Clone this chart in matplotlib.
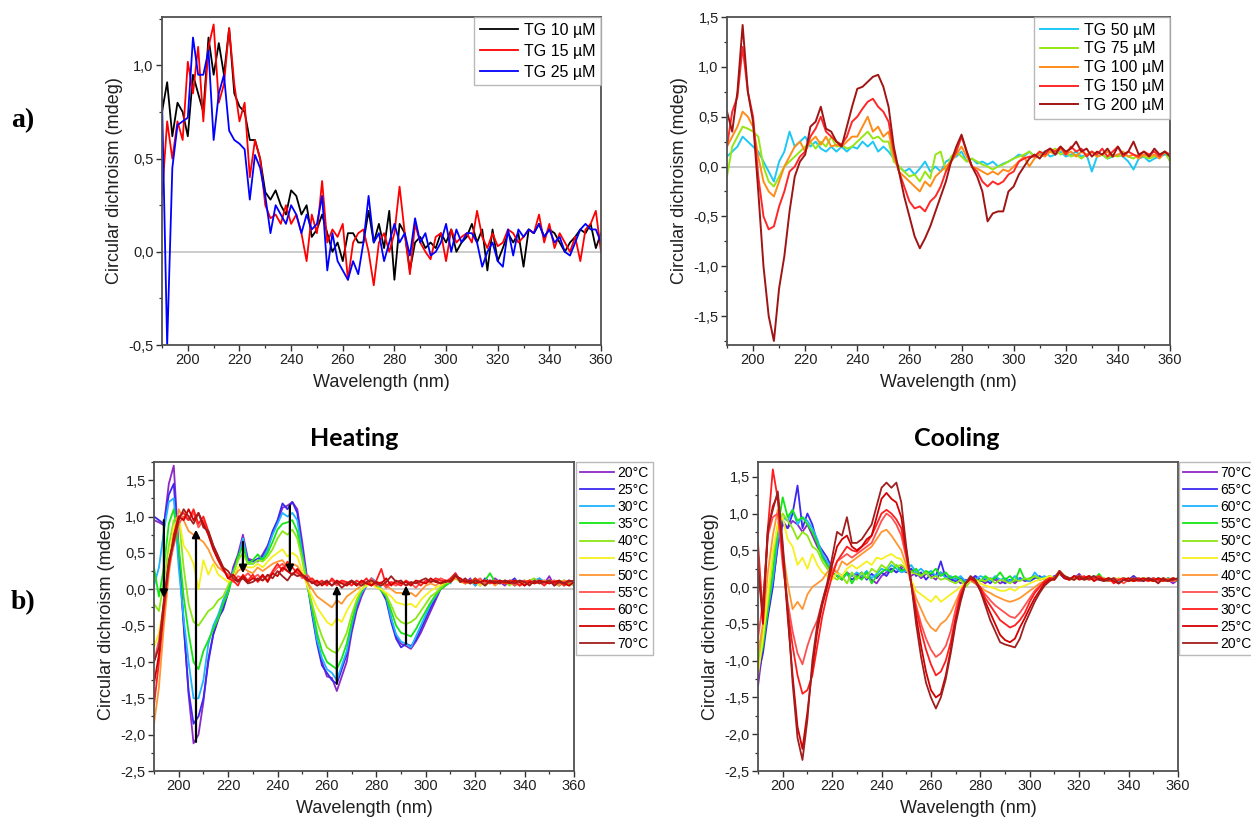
import matplotlib
matplotlib.use("Agg")
import matplotlib.pyplot as plt
from matplotlib.ticker import MultipleLocator, FuncFormatter

# ---------------- data ----------------
wavelength = list(range(190, 361, 2))  # nm

# panel a) left
tg_10 = [0.75, 0.91, 0.62, 0.80, 0.75, 0.62, 0.95, 0.85, 0.75, 1.15,
         0.95, 1.12, 0.95, 1.20, 0.85, 0.78, 0.75, 0.60, 0.60, 0.50,
         0.32, 0.28, 0.33, 0.25, 0.20, 0.33, 0.30, 0.20, 0.25, 0.08,
         0.12, 0.20, 0.10, 0.00, 0.05, -0.05, 0.10, 0.10, 0.05, 0.05,
         0.22, 0.05, 0.15, 0.02, 0.22, -0.15, 0.15, 0.10, -0.10, 0.05,
         0.08, 0.02, 0.05, 0.02, 0.10, 0.05, 0.12, 0.00, 0.05, 0.08,
         0.15, 0.05, 0.12, -0.10, 0.12, -0.05, 0.02, 0.10, 0.05, 0.10,
         -0.08, 0.12, 0.10, 0.15, 0.08, 0.12, 0.10, 0.05, 0.00, 0.05,
         0.08, 0.12, 0.10, 0.15, 0.02, 0.10]
tg_15 = [0.30, 0.70, 0.50, 0.70, 0.60, 1.02, 0.85, 1.10, 0.70, 1.10,
         1.22, 0.80, 0.90, 1.20, 0.90, 0.70, 0.80, 0.40, 0.60, 0.50,
         0.25, 0.18, 0.20, 0.15, 0.25, 0.15, 0.20, 0.10, -0.05, 0.20,
         0.10, 0.38, 0.05, 0.12, 0.08, 0.15, -0.15, 0.05, 0.10, 0.12,
         0.00, -0.18, 0.05, 0.10, 0.00, 0.10, 0.35, 0.10, -0.12, 0.15,
         0.05, 0.00, -0.04, 0.08, 0.10, -0.05, 0.12, 0.05, 0.08, 0.10,
         0.05, 0.22, 0.08, 0.02, 0.10, 0.03, 0.05, 0.12, 0.10, 0.05,
         0.08, 0.12, 0.10, 0.20, 0.05, 0.15, 0.02, 0.10, 0.05, 0.00,
         0.08, -0.05, 0.12, 0.15, 0.22, 0.00]
tg_25 = [0.82, -0.50, 0.45, 0.68, 0.70, 0.72, 1.15, 0.95, 0.95, 1.08,
         0.60, 0.85, 0.95, 0.65, 0.60, 0.58, 0.55, 0.28, 0.52, 0.45,
         0.30, 0.10, 0.25, 0.20, 0.15, 0.25, 0.20, 0.10, 0.20, 0.12,
         0.15, 0.30, -0.10, 0.10, -0.05, -0.10, -0.15, -0.05, -0.12, 0.05,
         0.30, 0.05, 0.10, -0.05, 0.05, 0.15, 0.05, 0.10, -0.02, 0.18,
         0.05, 0.10, -0.02, 0.00, 0.05, 0.15, 0.00, 0.12, 0.05, 0.10,
         0.10, 0.05, -0.08, 0.00, 0.05, -0.05, -0.08, 0.12, -0.02, 0.12,
         0.08, 0.12, 0.10, 0.15, 0.08, 0.12, 0.05, 0.08, 0.00, -0.02,
         0.05, 0.12, 0.15, 0.12, 0.12, 0.05]

# panel a) right
tg_50 = [0.10, 0.15, 0.20, 0.30, 0.25, 0.20, 0.15, 0.05, -0.05, -0.15,
         0.05, 0.15, 0.35, 0.20, 0.25, 0.30, 0.20, 0.25, 0.18, 0.15,
         0.20, 0.15, 0.20, 0.15, 0.20, 0.18, 0.25, 0.20, 0.25, 0.15,
         0.20, 0.15, 0.08, 0.00, -0.05, -0.02, -0.08, -0.02, 0.05, -0.05,
         0.00, -0.05, 0.05, 0.08, 0.10, 0.15, 0.05, 0.08, 0.03, 0.05,
         0.02, 0.05, 0.00, 0.03, 0.05, 0.08, 0.12, 0.10, 0.15, 0.10,
         0.12, 0.15, 0.10, 0.12, 0.15, 0.10, 0.12, 0.15, 0.10, 0.12,
         -0.05, 0.10, 0.12, 0.08, 0.10, 0.12, 0.10, 0.05, -0.03, 0.08,
         0.10, 0.05, 0.08, 0.10, 0.12, 0.10]
tg_75 = [-0.10, 0.20, 0.30, 0.40, 0.38, 0.35, 0.30, 0.00, -0.15, -0.20,
         -0.10, 0.00, 0.05, 0.10, 0.15, 0.20, 0.25, 0.18, 0.25, 0.20,
         0.30, 0.20, 0.22, 0.18, 0.20, 0.25, 0.30, 0.35, 0.28, 0.30,
         0.25, 0.25, 0.05, 0.00, -0.05, -0.10, -0.08, -0.15, -0.05, -0.12,
         0.12, 0.15, -0.05, 0.10, 0.15, 0.10, 0.05, 0.08, 0.05, 0.02,
         0.00, -0.03, 0.00, 0.02, 0.05, 0.08, 0.10, 0.12, 0.15, 0.10,
         0.15, 0.12, 0.15, 0.18, 0.12, 0.15, 0.10, 0.12, 0.08, 0.12,
         0.15, 0.10, 0.12, 0.08, 0.12, 0.10, 0.12, 0.10, 0.08, 0.12,
         0.10, 0.08, 0.10, 0.12, 0.15, 0.05]
tg_100 = [0.20, 0.30, 0.40, 0.55, 0.50, 0.40, 0.10, -0.15, -0.25, -0.30,
          -0.15, 0.00, 0.10, 0.20, 0.25, 0.15, 0.25, 0.30, 0.22, 0.30,
          0.20, 0.22, 0.20, 0.25, 0.30, 0.30, 0.40, 0.50, 0.35, 0.40,
          0.30, 0.35, 0.10, -0.05, -0.10, -0.15, -0.20, -0.25, -0.15, -0.20,
          -0.10, -0.05, 0.00, 0.05, 0.12, 0.20, 0.10, 0.00, -0.02, -0.05,
          -0.08, -0.05, -0.08, -0.03, -0.05, 0.00, 0.05, 0.10, 0.00, 0.08,
          0.12, 0.10, 0.15, 0.12, 0.18, 0.12, 0.15, 0.10, 0.15, 0.12,
          0.15, 0.10, 0.12, 0.15, 0.10, 0.12, 0.15, 0.10, 0.12, 0.08,
          0.12, 0.10, 0.12, 0.08, 0.15, 0.10]
tg_150 = [0.20, 0.55, 0.70, 1.20, 0.75, 0.50, -0.10, -0.50, -0.63, -0.60,
          -0.40, -0.25, -0.05, 0.00, 0.10, 0.15, 0.30, 0.38, 0.50, 0.35,
          0.30, 0.25, 0.22, 0.30, 0.45, 0.50, 0.58, 0.65, 0.68, 0.60,
          0.55, 0.45, 0.15, -0.05, -0.20, -0.35, -0.42, -0.40, -0.45, -0.35,
          -0.30, -0.20, -0.05, 0.05, 0.15, 0.30, 0.15, 0.00, -0.05, -0.15,
          -0.20, -0.15, -0.18, -0.15, -0.08, -0.05, 0.05, 0.08, 0.10, 0.10,
          0.15, 0.12, 0.18, 0.15, 0.20, 0.12, 0.20, 0.15, 0.18, 0.10,
          0.15, 0.12, 0.18, 0.10, 0.15, 0.20, 0.10, 0.15, 0.12, 0.10,
          0.15, 0.12, 0.15, 0.10, 0.15, 0.12]
tg_200 = [0.55, 0.35, 0.75, 1.42, 0.75, 0.45, -0.25, -1.00, -1.50, -1.75,
          -1.22, -0.90, -0.45, -0.10, 0.05, 0.12, 0.40, 0.45, 0.60, 0.38,
          0.35, 0.25, 0.20, 0.40, 0.60, 0.78, 0.80, 0.85, 0.90, 0.92,
          0.80, 0.60, 0.20, -0.05, -0.30, -0.50, -0.70, -0.82, -0.72, -0.60,
          -0.45, -0.30, -0.15, 0.05, 0.20, 0.32, 0.15, 0.00, -0.10, -0.25,
          -0.55, -0.47, -0.45, -0.45, -0.25, -0.20, -0.08, 0.00, 0.08, 0.12,
          0.08, 0.15, 0.18, 0.12, 0.20, 0.15, 0.18, 0.25, 0.15, 0.18,
          0.10, 0.15, 0.12, 0.18, 0.10, 0.20, 0.12, 0.15, 0.25, 0.12,
          0.15, 0.10, 0.18, 0.12, 0.15, 0.10]

# panel b) heating
heat_20 = [0.95, 0.92, 0.88, 1.45, 1.70, 0.55, -0.45, -1.45, -2.12, -2.00,
           -1.55, -0.95, -0.62, -0.42, -0.22, -0.05, 0.30, 0.48, 0.75, 0.42,
           0.40, 0.38, 0.48, 0.60, 0.78, 0.92, 1.12, 1.15, 1.20, 1.10,
           0.65, 0.15, -0.30, -0.70, -1.00, -1.20, -1.22, -1.40, -1.20, -1.00,
           -0.60, -0.30, -0.10, 0.05, 0.15, 0.10, 0.00, -0.12, -0.40, -0.65,
           -0.75, -0.78, -0.82, -0.72, -0.60, -0.45, -0.30, -0.15, 0.00, 0.05,
           0.10, 0.22, 0.12, 0.08, 0.15, 0.05, 0.10, 0.12, 0.08, 0.15,
           0.10, 0.05, 0.12, 0.08, 0.10, 0.05, 0.12, 0.10, 0.15, 0.08,
           0.18, 0.05, 0.10, 0.08, 0.12, 0.05]
heat_25 = [1.00, 0.95, 0.90, 1.30, 1.45, 0.50, -0.50, -1.40, -1.85, -1.75,
           -1.50, -1.00, -0.62, -0.40, -0.28, -0.05, 0.25, 0.45, 0.65, 0.40,
           0.38, 0.42, 0.45, 0.58, 0.80, 0.95, 1.18, 1.10, 1.20, 1.05,
           0.55, 0.10, -0.35, -0.75, -1.05, -1.15, -1.25, -1.30, -1.10, -0.90,
           -0.55, -0.25, -0.05, 0.08, 0.12, 0.08, -0.02, -0.15, -0.45, -0.68,
           -0.80, -0.75, -0.78, -0.70, -0.55, -0.40, -0.25, -0.12, 0.02, 0.08,
           0.12, 0.18, 0.10, 0.12, 0.08, 0.12, 0.05, 0.15, 0.10, 0.08,
           0.12, 0.08, 0.10, 0.15, 0.05, 0.10, 0.08, 0.12, 0.10, 0.12,
           0.08, 0.12, 0.05, 0.10, 0.08, 0.10]
heat_30 = [0.05, 0.30, 0.80, 1.20, 1.25, 0.30, -0.40, -1.00, -1.50, -1.50,
           -1.25, -0.75, -0.50, -0.35, -0.15, 0.00, 0.25, 0.40, 0.70, 0.35,
           0.35, 0.40, 0.42, 0.55, 0.75, 0.90, 1.05, 1.00, 1.05, 0.95,
           0.50, 0.10, -0.30, -0.70, -0.95, -1.10, -1.15, -1.25, -1.05, -0.85,
           -0.50, -0.22, -0.05, 0.05, 0.15, 0.10, 0.00, -0.10, -0.40, -0.62,
           -0.72, -0.75, -0.80, -0.65, -0.50, -0.35, -0.20, -0.10, 0.02, 0.10,
           0.08, 0.20, 0.12, 0.10, 0.12, 0.05, 0.12, 0.08, 0.12, 0.10,
           0.08, 0.12, 0.10, 0.05, 0.12, 0.10, 0.08, 0.12, 0.15, 0.10,
           0.10, 0.08, 0.12, 0.05, 0.10, 0.08]
heat_35 = [0.30, -0.10, 0.30, 0.90, 1.10, 0.60, -0.10, -0.60, -1.00, -1.10,
           -0.85, -0.70, -0.55, -0.40, -0.20, -0.05, 0.20, 0.45, 0.60, 0.35,
           0.40, 0.48, 0.40, 0.50, 0.65, 0.82, 0.90, 0.92, 0.95, 0.80,
           0.45, 0.05, -0.25, -0.60, -0.85, -1.00, -1.05, -1.10, -0.95, -0.75,
           -0.45, -0.18, -0.02, 0.08, 0.12, 0.05, -0.02, -0.10, -0.30, -0.50,
           -0.60, -0.62, -0.65, -0.55, -0.42, -0.30, -0.18, -0.08, 0.00, 0.05,
           0.10, 0.18, 0.12, 0.08, 0.10, 0.15, 0.08, 0.12, 0.22, 0.10,
           0.12, 0.08, 0.12, 0.05, 0.10, 0.12, 0.08, 0.10, 0.12, 0.08,
           0.12, 0.10, 0.05, 0.12, 0.08, 0.10]
heat_40 = [-0.20, -0.30, 0.10, 0.60, 0.95, 1.00, 0.30, -0.20, -0.45, -0.50,
           -0.40, -0.30, -0.25, -0.15, -0.10, 0.05, 0.20, 0.40, 0.50, 0.35,
           0.35, 0.40, 0.38, 0.45, 0.55, 0.70, 0.80, 0.75, 0.82, 0.70,
           0.40, 0.05, -0.20, -0.45, -0.65, -0.80, -0.85, -0.88, -0.75, -0.60,
           -0.35, -0.15, 0.00, 0.05, 0.10, 0.05, 0.00, -0.08, -0.22, -0.38,
           -0.45, -0.48, -0.45, -0.40, -0.30, -0.20, -0.10, -0.05, 0.02, 0.08,
           0.10, 0.15, 0.10, 0.12, 0.08, 0.10, 0.12, 0.05, 0.10, 0.12,
           0.08, 0.10, 0.05, 0.12, 0.10, 0.08, 0.12, 0.15, 0.08, 0.10,
           0.12, 0.08, 0.10, 0.12, 0.05, 0.08]
heat_45 = [-0.80, -0.60, -0.20, 0.40, 0.85, 1.00, 0.60, 0.50, 0.35, 0.00,
           0.40, 0.20, 0.35, 0.20, 0.15, 0.10, 0.15, 0.30, 0.35, 0.30,
           0.30, 0.35, 0.30, 0.38, 0.45, 0.50, 0.55, 0.45, 0.50, 0.45,
           0.25, 0.05, -0.10, -0.25, -0.35, -0.45, -0.50, -0.40, -0.45, -0.30,
           -0.18, -0.08, 0.00, 0.05, 0.08, 0.02, 0.00, -0.05, -0.10, -0.18,
           -0.20, -0.22, -0.20, -0.25, -0.15, -0.08, -0.02, 0.02, 0.05, 0.10,
           0.12, 0.18, 0.10, 0.08, 0.12, 0.10, 0.05, 0.12, 0.10, 0.08,
           0.10, 0.12, 0.08, 0.10, 0.05, 0.12, 0.10, 0.08, 0.12, 0.10,
           0.08, 0.10, 0.12, 0.05, 0.10, 0.08]
heat_50 = [-1.85, -1.35, -0.50, 0.20, 0.70, 1.10, 0.95, 0.80, 0.75, 0.70,
           0.65, 0.55, 0.40, 0.30, 0.25, 0.20, 0.15, 0.25, 0.30, 0.25,
           0.22, 0.30, 0.25, 0.30, 0.35, 0.38, 0.40, 0.30, 0.35, 0.32,
           0.20, 0.10, 0.00, -0.10, -0.15, -0.20, -0.25, -0.15, -0.20, -0.10,
           -0.05, 0.00, 0.05, 0.08, 0.10, 0.05, 0.08, 0.05, 0.00, -0.05,
           -0.05, -0.08, -0.05, -0.10, -0.02, 0.05, 0.08, 0.05, 0.10, 0.12,
           0.10, 0.15, 0.12, 0.08, 0.10, 0.12, 0.08, 0.10, 0.12, 0.05,
           0.10, 0.08, 0.12, 0.10, 0.05, 0.08, 0.12, 0.10, 0.08, 0.12,
           0.10, 0.08, 0.05, 0.12, 0.10, 0.08]
heat_55 = [-1.00, -0.70, -0.20, 0.30, 0.60, 0.90, 1.00, 0.95, 1.05, 0.85,
           0.95, 0.75, 0.55, 0.40, 0.25, 0.20, 0.10, 0.18, 0.15, 0.22,
           0.15, 0.20, 0.12, 0.18, 0.22, 0.30, 0.35, 0.25, 0.20, 0.25,
           0.15, 0.20, 0.12, 0.05, 0.10, 0.08, 0.12, 0.05, 0.10, 0.08,
           0.12, 0.05, 0.10, 0.08, 0.15, 0.05, 0.10, 0.02, 0.08, 0.05,
           0.10, 0.05, 0.08, 0.02, 0.10, 0.08, 0.12, 0.10, 0.15, 0.12,
           0.10, 0.20, 0.12, 0.08, 0.12, 0.10, 0.15, 0.08, 0.12, 0.10,
           0.08, 0.12, 0.10, 0.05, 0.10, 0.12, 0.08, 0.10, 0.12, 0.08,
           0.10, 0.12, 0.08, 0.10, 0.12, 0.10]
heat_60 = [-1.60, -1.00, -0.30, 0.30, 0.75, 1.00, 1.05, 0.95, 1.10, 0.90,
           1.00, 0.80, 0.60, 0.45, 0.30, 0.15, 0.12, 0.05, 0.20, 0.12,
           0.20, 0.10, 0.18, 0.12, 0.25, 0.35, 0.25, 0.38, 0.30, 0.22,
           0.18, 0.12, 0.15, 0.08, 0.12, 0.05, 0.15, 0.08, 0.12, 0.10,
           0.05, 0.12, 0.08, 0.15, 0.05, 0.12, 0.28, 0.05, 0.10, 0.08,
           0.05, 0.12, 0.08, 0.10, 0.05, 0.12, 0.10, 0.15, 0.12, 0.10,
           0.15, 0.22, 0.10, 0.12, 0.08, 0.15, 0.10, 0.12, 0.08, 0.12,
           0.10, 0.08, 0.12, 0.10, 0.05, 0.10, 0.12, 0.08, 0.10, 0.05,
           0.12, 0.08, 0.10, 0.05, 0.10, 0.12]
heat_65 = [-1.30, -0.90, -0.20, 0.35, 0.70, 1.00, 0.95, 1.10, 0.95, 1.05,
           0.90, 0.75, 0.55, 0.40, 0.28, 0.15, 0.20, 0.12, 0.18, 0.10,
           0.15, 0.12, 0.20, 0.10, 0.22, 0.18, 0.30, 0.25, 0.20, 0.28,
           0.20, 0.15, 0.08, 0.12, 0.05, 0.10, 0.05, 0.12, 0.08, 0.05,
           0.10, 0.05, 0.12, 0.08, 0.05, 0.10, 0.08, 0.15, 0.05, 0.12,
           0.08, 0.10, 0.05, 0.12, 0.10, 0.08, 0.15, 0.10, 0.08, 0.12,
           0.10, 0.18, 0.15, 0.10, 0.12, 0.08, 0.10, 0.12, 0.10, 0.08,
           0.12, 0.10, 0.08, 0.12, 0.10, 0.05, 0.10, 0.08, 0.12, 0.10,
           0.08, 0.10, 0.12, 0.08, 0.05, 0.10]
heat_70 = [-1.00, -0.80, -0.15, 0.40, 0.65, 0.95, 1.10, 1.00, 0.90, 1.05,
           0.85, 0.80, 0.60, 0.45, 0.30, 0.25, 0.15, 0.10, 0.15, 0.08,
           0.10, 0.15, 0.12, 0.20, 0.15, 0.25, 0.18, 0.12, 0.22, 0.18,
           0.20, 0.12, 0.10, 0.05, 0.08, 0.12, 0.05, 0.10, 0.02, 0.08,
           0.12, 0.08, 0.05, 0.10, 0.12, 0.08, 0.05, 0.10, 0.18, 0.10,
           0.12, 0.05, 0.10, 0.08, 0.12, 0.15, 0.10, 0.12, 0.08, 0.10,
           0.12, 0.20, 0.10, 0.15, 0.08, 0.12, 0.10, 0.05, 0.12, 0.10,
           0.08, 0.12, 0.10, 0.08, 0.12, 0.10, 0.05, 0.12, 0.08, 0.10,
           0.12, 0.05, 0.10, 0.08, 0.12, 0.10]

# panel b) cooling
cool_70 = [-1.35, -0.80, -0.35, 0.05, 0.55, 0.85, 0.80, 0.90, 0.85, 0.75,
           0.85, 0.70, 0.55, 0.45, 0.30, 0.20, 0.15, 0.10, 0.20, 0.15,
           0.18, 0.12, 0.20, 0.10, 0.05, 0.15, 0.20, 0.25, 0.20, 0.28,
           0.25, 0.15, 0.20, 0.12, 0.18, 0.15, 0.10, 0.20, 0.15, 0.10,
           0.12, 0.05, 0.10, 0.08, 0.15, 0.10, 0.05, 0.12, 0.10, 0.05,
           0.08, 0.10, 0.05, 0.12, 0.08, 0.10, 0.15, 0.10, 0.12, 0.15,
           0.12, 0.20, 0.15, 0.10, 0.12, 0.18, 0.10, 0.12, 0.15, 0.10,
           0.12, 0.08, 0.10, 0.05, 0.12, 0.10, 0.15, 0.08, 0.10, 0.12,
           0.10, 0.08, 0.12, 0.10, 0.05, 0.10]
cool_65 = [-1.20, -0.90, -0.40, 0.00, 0.60, 0.90, 0.80, 1.00, 1.38, 0.80,
           1.00, 0.85, 0.60, 0.50, 0.40, 0.25, 0.20, 0.15, 0.18, 0.10,
           0.15, 0.20, 0.10, 0.18, 0.12, 0.20, 0.15, 0.25, 0.20, 0.25,
           0.20, 0.25, 0.15, 0.20, 0.10, 0.18, 0.15, 0.35, 0.12, 0.10,
           0.08, 0.12, 0.05, 0.10, 0.15, 0.08, 0.10, 0.05, 0.12, 0.10,
           0.05, 0.10, 0.08, 0.12, 0.10, 0.08, 0.12, 0.15, 0.10, 0.12,
           0.15, 0.18, 0.12, 0.10, 0.15, 0.12, 0.10, 0.15, 0.12, 0.10,
           0.10, 0.12, 0.08, 0.10, 0.12, 0.08, 0.15, 0.10, 0.12, 0.10,
           0.12, 0.10, 0.08, 0.12, 0.10, 0.08]
cool_60 = [-1.00, -0.70, -0.30, 0.10, 0.65, 0.95, 0.90, 1.05, 0.85, 0.95,
           0.90, 0.80, 0.65, 0.45, 0.35, 0.25, 0.20, 0.12, 0.18, 0.15,
           0.20, 0.15, 0.22, 0.12, 0.18, 0.25, 0.22, 0.30, 0.25, 0.20,
           0.22, 0.30, 0.20, 0.25, 0.18, 0.22, 0.15, 0.20, 0.12, 0.15,
           0.10, 0.15, 0.08, 0.12, 0.10, 0.15, 0.12, 0.08, 0.15, 0.10,
           0.12, 0.08, 0.15, 0.10, 0.12, 0.08, 0.20, 0.12, 0.15, 0.10,
           0.12, 0.20, 0.15, 0.12, 0.10, 0.15, 0.12, 0.10, 0.15, 0.12,
           0.10, 0.12, 0.10, 0.08, 0.12, 0.10, 0.12, 0.10, 0.08, 0.12,
           0.10, 0.12, 0.10, 0.08, 0.12, 0.10]
cool_55 = [-1.10, -0.80, -0.30, 0.20, 0.80, 1.22, 0.95, 1.05, 0.90, 0.95,
           0.85, 0.75, 0.60, 0.40, 0.30, 0.20, 0.15, 0.10, 0.20, 0.05,
           0.15, 0.10, 0.20, 0.05, 0.15, 0.20, 0.25, 0.20, 0.30, 0.22,
           0.25, 0.20, 0.25, 0.15, 0.22, 0.18, 0.25, 0.15, 0.20, 0.12,
           0.15, 0.10, 0.05, 0.12, 0.10, 0.08, 0.15, 0.10, 0.12, 0.20,
           0.10, 0.15, 0.08, 0.25, 0.10, 0.12, 0.15, 0.10, 0.12, 0.15,
           0.10, 0.18, 0.15, 0.12, 0.10, 0.15, 0.12, 0.15, 0.10, 0.18,
           0.10, 0.08, 0.12, 0.10, 0.12, 0.10, 0.08, 0.12, 0.10, 0.12,
           0.08, 0.12, 0.10, 0.12, 0.08, 0.10]
cool_50 = [-1.00, -0.60, -0.20, 0.40, 0.85, 1.00, 0.90, 0.80, 0.65, 0.75,
           0.70, 0.55, 0.50, 0.35, 0.25, 0.15, 0.10, 0.15, 0.05, 0.20,
           0.10, 0.20, 0.12, 0.25, 0.20, 0.30, 0.25, 0.35, 0.28, 0.30,
           0.25, 0.20, 0.18, 0.15, 0.20, 0.12, 0.15, 0.10, 0.12, 0.08,
           0.05, 0.10, 0.00, 0.08, 0.05, 0.10, 0.08, 0.12, 0.05, 0.10,
           0.08, 0.05, 0.10, 0.08, 0.12, 0.10, 0.15, 0.12, 0.10, 0.15,
           0.12, 0.20, 0.15, 0.10, 0.12, 0.15, 0.10, 0.12, 0.15, 0.10,
           0.12, 0.10, 0.08, 0.12, 0.10, 0.12, 0.08, 0.10, 0.12, 0.08,
           0.12, 0.10, 0.08, 0.10, 0.12, 0.08]
cool_45 = [-1.20, -0.70, -0.10, 0.50, 0.85, 0.95, 0.65, 0.55, 0.30, 0.40,
           0.25, 0.45, 0.30, 0.20, 0.15, 0.10, 0.20, 0.15, 0.25, 0.30,
           0.25, 0.30, 0.35, 0.30, 0.40, 0.38, 0.42, 0.45, 0.40, 0.38,
           0.25, 0.10, -0.05, -0.10, -0.15, -0.20, -0.12, -0.20, -0.15, -0.10,
           -0.05, 0.00, 0.05, 0.08, 0.10, 0.05, 0.02, 0.00, -0.02, -0.05,
           -0.05, -0.02, -0.05, 0.00, 0.02, 0.05, 0.08, 0.10, 0.12, 0.15,
           0.12, 0.22, 0.15, 0.10, 0.12, 0.15, 0.10, 0.12, 0.10, 0.15,
           0.10, 0.12, 0.08, 0.12, 0.10, 0.08, 0.12, 0.10, 0.12, 0.10,
           0.08, 0.10, 0.12, 0.08, 0.10, 0.12]
cool_40 = [-0.90, -0.50, 0.20, 0.70, 1.05, 0.50, 0.05, -0.30, -0.20, -0.30,
           -0.10, 0.00, 0.05, 0.10, 0.20, 0.25, 0.20, 0.35, 0.30, 0.35,
           0.40, 0.45, 0.50, 0.55, 0.65, 0.75, 0.78, 0.70, 0.60, 0.50,
           0.30, 0.05, -0.15, -0.30, -0.45, -0.55, -0.60, -0.50, -0.45, -0.35,
           -0.20, -0.05, 0.05, 0.10, 0.05, 0.00, -0.05, -0.08, -0.12, -0.15,
           -0.18, -0.20, -0.18, -0.15, -0.10, -0.05, 0.00, 0.05, 0.08, 0.12,
           0.12, 0.18, 0.15, 0.12, 0.10, 0.15, 0.12, 0.10, 0.12, 0.15,
           0.10, 0.12, 0.08, 0.10, 0.12, 0.10, 0.08, 0.12, 0.10, 0.12,
           0.10, 0.08, 0.12, 0.10, 0.08, 0.10]
cool_35 = [-0.70, -0.20, 0.70, 0.95, 1.00, 0.30, -0.20, -0.60, -0.90, -1.05,
           -0.80, -0.60, -0.45, -0.20, 0.05, 0.20, 0.35, 0.40, 0.45, 0.40,
           0.45, 0.50, 0.55, 0.60, 0.75, 0.90, 1.00, 0.95, 0.85, 0.70,
           0.40, 0.05, -0.25, -0.50, -0.70, -0.85, -0.95, -0.90, -0.80, -0.60,
           -0.30, -0.05, 0.05, 0.10, 0.05, -0.02, -0.10, -0.18, -0.25, -0.30,
           -0.35, -0.40, -0.42, -0.35, -0.25, -0.15, -0.05, 0.02, 0.08, 0.12,
           0.10, 0.20, 0.15, 0.12, 0.10, 0.15, 0.12, 0.15, 0.10, 0.12,
           0.10, 0.08, 0.12, 0.10, 0.05, 0.10, 0.12, 0.08, 0.10, 0.12,
           0.10, 0.08, 0.12, 0.10, 0.08, 0.12]
cool_30 = [0.60, -0.40, 0.80, 1.60, 1.20, 0.40, -0.30, -0.80, -1.20, -1.45,
           -1.40, -1.20, -0.80, -0.40, -0.10, 0.15, 0.35, 0.45, 0.55, 0.50,
           0.48, 0.55, 0.60, 0.70, 0.85, 1.00, 1.05, 1.00, 0.92, 0.80,
           0.45, 0.05, -0.30, -0.60, -0.85, -1.05, -1.20, -1.15, -1.00, -0.75,
           -0.40, -0.10, 0.05, 0.12, 0.08, 0.00, -0.15, -0.25, -0.35, -0.45,
           -0.50, -0.55, -0.52, -0.45, -0.35, -0.20, -0.08, 0.00, 0.08, 0.12,
           0.12, 0.22, 0.15, 0.10, 0.15, 0.12, 0.15, 0.10, 0.12, 0.15,
           0.10, 0.12, 0.05, 0.10, 0.12, 0.08, 0.10, 0.12, 0.10, 0.08,
           0.12, 0.10, 0.08, 0.10, 0.12, 0.10]
cool_25 = [0.30, -0.50, 0.75, 1.10, 1.25, 0.50, -0.40, -1.20, -1.90, -2.20,
           -1.70, -1.10, -0.60, -0.25, 0.00, 0.30, 0.55, 0.65, 0.70, 0.55,
           0.50, 0.55, 0.65, 0.70, 0.95, 1.20, 1.28, 1.20, 1.15, 0.95,
           0.50, 0.05, -0.40, -0.80, -1.15, -1.40, -1.50, -1.45, -1.20, -0.85,
           -0.45, -0.15, 0.05, 0.12, 0.08, -0.05, -0.20, -0.35, -0.50, -0.65,
           -0.72, -0.75, -0.70, -0.55, -0.42, -0.28, -0.15, -0.05, 0.05, 0.10,
           0.10, 0.20, 0.12, 0.10, 0.15, 0.10, 0.12, 0.15, 0.08, 0.12,
           0.10, 0.12, 0.08, 0.05, 0.10, 0.12, 0.08, 0.10, 0.12, 0.10,
           0.08, 0.12, 0.10, 0.08, 0.12, 0.10]
cool_20 = [0.20, -0.30, 0.80, 1.05, 1.30, 0.60, -0.30, -1.30, -2.05, -2.35,
           -1.80, -1.00, -0.50, -0.20, 0.05, 0.40, 0.75, 0.70, 0.95, 0.60,
           0.60, 0.65, 0.75, 0.85, 1.10, 1.35, 1.42, 1.35, 1.42, 1.15,
           0.55, 0.05, -0.50, -0.95, -1.30, -1.50, -1.65, -1.50, -1.25, -0.90,
           -0.50, -0.20, 0.05, 0.15, 0.10, -0.05, -0.25, -0.45, -0.60, -0.75,
           -0.78, -0.80, -0.82, -0.70, -0.50, -0.35, -0.20, -0.08, 0.02, 0.08,
           0.12, 0.22, 0.15, 0.12, 0.10, 0.15, 0.10, 0.12, 0.15, 0.10,
           0.08, 0.10, 0.12, 0.05, 0.10, 0.08, 0.12, 0.10, 0.08, 0.12,
           0.10, 0.05, 0.12, 0.08, 0.10, 0.12]

conc_labels_a1 = ["TG 10 µM", "TG 15 µM", "TG 25 µM"]
conc_labels_a2 = ["TG 50 µM", "TG 75 µM", "TG 100 µM", "TG 150 µM", "TG 200 µM"]
heat_labels = ["20°C", "25°C", "30°C", "35°C", "40°C", "45°C",
               "50°C", "55°C", "60°C", "65°C", "70°C"]
cool_labels = ["70°C", "65°C", "60°C", "55°C", "50°C", "45°C",
               "40°C", "35°C", "30°C", "25°C", "20°C"]
# arrows on heating panel: (wavelength, from value, to value)
heat_arrows = [(194, 0.95, -0.12), (207, -2.10, 0.82), (226, 0.65, 0.22),
               (245, 1.15, 0.22), (264, -1.30, 0.05), (292, -0.75, 0.05)]

# ---------------- style ----------------
SANS = ["Liberation Sans", "DejaVu Sans"]
plt.rcParams["font.family"] = SANS
colors_a1 = ["#000000", "#ff0000", "#0000ff"]
colors_a2 = ["#1ec8f5", "#96e614", "#ff8c19", "#ff2828", "#a01414"]
rainbow = ["#8c28c8", "#3c28f0", "#1eb4ff", "#14e614", "#8ce614", "#f5f01e",
           "#ff9632", "#ff5050", "#ff1e1e", "#d20000", "#a01e1e"]

W, H = 1251, 821
fig = plt.figure(figsize=(W / 100, H / 100), dpi=100)


def px_axes(x0, y0, x1, y1):
    return fig.add_axes([x0 / W, 1 - y1 / H, (x1 - x0) / W, (y1 - y0) / H])


comma = FuncFormatter(lambda v, p: ("%.1f" % v).replace(".", ","))


def style(ax, ylim):
    ax.set_xlim(190, 360)
    ax.set_ylim(*ylim)
    ax.xaxis.set_major_locator(MultipleLocator(20))
    ax.xaxis.set_minor_locator(MultipleLocator(10))
    ax.yaxis.set_major_locator(MultipleLocator(0.5))
    ax.yaxis.set_minor_locator(MultipleLocator(0.25))
    ax.yaxis.set_major_formatter(comma)
    ax.tick_params(which="major", direction="out", length=4, width=1.0,
                   labelsize=10.5, colors="#303030", pad=2)
    ax.tick_params(which="minor", direction="out", length=2.5, width=0.9,
                   colors="#303030")
    ax.tick_params(axis="x", labelcolor="#202020")
    ax.tick_params(axis="y", labelcolor="#202020")
    for s in ax.spines.values():
        s.set_color("#505050")
        s.set_linewidth(1.3)
    ax.axhline(0, color="#c8c8c8", lw=1.3, zorder=0)
    ax.set_xlabel("Wavelength (nm)", fontsize=13, color="#202020", labelpad=5)
    ax.set_ylabel("Circular dichroism (mdeg)", fontsize=13, color="#202020",
                  labelpad=4)


def frame(leg):
    leg.get_frame().set_edgecolor("#a8a8a8")
    leg.get_frame().set_linewidth(1.0)


# a) left
ax1 = px_axes(162, 17, 601, 345)
for ys, c, lab in zip([tg_10, tg_15, tg_25], colors_a1, conc_labels_a1):
    ax1.plot(wavelength, ys, color=c, lw=1.3, label=lab)
style(ax1, (-0.5, 1.26))
frame(ax1.legend(loc="upper right", fontsize=11.5, frameon=True, fancybox=False,
                 borderaxespad=0, handlelength=2.4, handletextpad=0.35,
                 labelspacing=0.38, borderpad=0.35))

# a) right
ax2 = px_axes(727, 17, 1170, 345)
for ys, c, lab in zip([tg_50, tg_75, tg_100, tg_150, tg_200], colors_a2,
                      conc_labels_a2):
    ax2.plot(wavelength, ys, color=c, lw=1.4, label=lab)
style(ax2, (-1.79, 1.5))
frame(ax2.legend(loc="upper right", fontsize=11.5, frameon=True, fancybox=False,
                 borderaxespad=0, handlelength=2.4, handletextpad=0.35,
                 labelspacing=0.24, borderpad=0.35))

# b) heating
ax3 = px_axes(154, 462, 574, 771)
heat_series = [heat_20, heat_25, heat_30, heat_35, heat_40, heat_45,
               heat_50, heat_55, heat_60, heat_65, heat_70]
for ys, c, lab in zip(heat_series, rainbow, heat_labels):
    ax3.plot(wavelength, ys, color=c, lw=1.3, label=lab)
style(ax3, (-2.5, 1.75))
for wl, y0, y1 in heat_arrows:
    ax3.annotate("", xy=(wl, y1), xytext=(wl, y0),
                 arrowprops=dict(arrowstyle="-|>", color="black", lw=1.6,
                                 mutation_scale=11, shrinkA=0, shrinkB=0))
frame(ax3.legend(loc="upper left", bbox_to_anchor=(576 / W, 1 - 462 / H),
                 bbox_transform=fig.transFigure, fontsize=10, frameon=True,
                 fancybox=False, borderaxespad=0, handlelength=2.4,
                 handletextpad=0.3, labelspacing=0.22, borderpad=0.3))

# b) cooling
ax4 = px_axes(758, 462, 1178, 771)
cool_series = [cool_70, cool_65, cool_60, cool_55, cool_50, cool_45,
               cool_40, cool_35, cool_30, cool_25, cool_20]
for ys, c, lab in zip(cool_series, rainbow, cool_labels):
    ax4.plot(wavelength, ys, color=c, lw=1.3, label=lab)
style(ax4, (-2.5, 1.7))
frame(ax4.legend(loc="upper left", bbox_to_anchor=(1179 / W, 1 - 462 / H),
                 bbox_transform=fig.transFigure, fontsize=10, frameon=True,
                 fancybox=False, borderaxespad=0, handlelength=2.4,
                 handletextpad=0.3, labelspacing=0.22, borderpad=0.3))

# titles and panel letters
fig.text(354 / W, 1 - 438 / H, "Heating", fontsize=18, fontweight="bold",
         family=["Lato", "DejaVu Sans"], ha="center", va="center")
fig.text(957 / W, 1 - 438 / H, "Cooling", fontsize=18, fontweight="bold",
         family=["Lato", "DejaVu Sans"], ha="center", va="center")
fig.text(23 / W, 1 - 121 / H, "a)", fontsize=20, fontweight="bold",
         family=["Liberation Serif", "DejaVu Serif"], ha="center", va="center")
fig.text(23 / W, 1 - 603 / H, "b)", fontsize=20, fontweight="bold",
         family=["Liberation Serif", "DejaVu Serif"], ha="center", va="center")

fig.savefig("out.png", dpi=100, facecolor="white")
